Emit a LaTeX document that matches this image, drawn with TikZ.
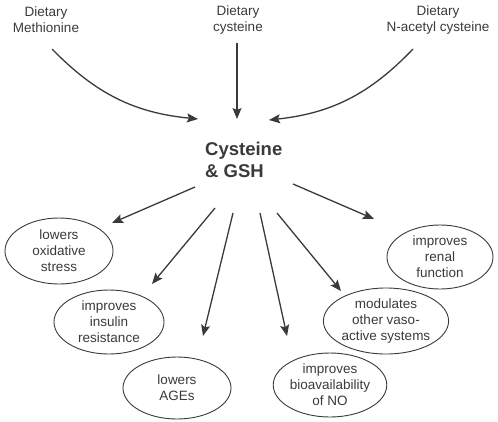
\documentclass[tikz,border=0pt]{standalone}
\usepackage{fontspec}
\setmainfont{Liberation Sans}
\usetikzlibrary{shapes.geometric,arrows.meta}
\definecolor{ink}{HTML}{3A3A3A}
\begin{document}
\begin{tikzpicture}[x=1pt,y=-1pt,
  txt/.style={text=ink,font=\fontsize{13.5}{16}\selectfont,align=center,inner sep=0pt},
  oval/.style={ellipse,draw=ink,line width=0.9pt,text=ink,font=\fontsize{13.5}{16}\selectfont,align=center,inner sep=0pt},
  arr/.style={draw=ink,line width=1.3pt,-{Stealth[length=11pt,width=9pt,inset=2pt]}}]
\useasboundingbox (0,0) rectangle (498,421);
% sources
\node[txt] (met) at (46,20) {Dietary\\Methionine};
\node[txt] (cys) at (238,20) {Dietary\\cysteine};
\node[txt] (nac) at (438,20) {Dietary\\N-acetyl cysteine};
% centre
\node[text=ink,font=\bfseries\fontsize{18.5}{22}\selectfont,align=left,inner sep=0pt,anchor=north west] (main) at (205,142) {Cysteine\\\& GSH};
% effects
\node[oval,minimum width=108pt,minimum height=66pt] (e1) at (59,251) {lowers\\oxidative\\stress};
\node[oval,minimum width=110pt,minimum height=64pt] (e2) at (109,322) {improves\\insulin\\resistance};
\node[oval,minimum width=108pt,minimum height=62pt] (e3) at (177,388) {lowers\\AGEs};
\node[oval,minimum width=106pt,minimum height=64pt] (e4) at (330,385) {improves\\bioavailability\\of NO};
\node[oval,minimum width=106pt,minimum height=66pt] (e5) at (386,321) {modulates\\other vaso-\\active systems};
\node[oval,minimum width=106pt,minimum height=64pt] (e6) at (440,257) {improves\\renal\\function};
% connector end points
\coordinate (s1) at (52,49);   \coordinate (t1) at (198,119);
\coordinate (s2) at (237,43);  \coordinate (t2) at (237,119);
\coordinate (s3) at (413,49);  \coordinate (t3) at (269,120);
\coordinate (b1) at (195,187); \coordinate (f1) at (112,223);
\coordinate (b2) at (215,208); \coordinate (f2) at (152,284);
\coordinate (b3) at (233,213); \coordinate (f3) at (203,336);
\coordinate (b4) at (260,213); \coordinate (f4) at (287,336);
\coordinate (b5) at (277,213); \coordinate (f5) at (341,291);
\coordinate (b6) at (293,184); \coordinate (f6) at (374,219);
\draw[arr] (s1) to[bend right=20] (t1);
\draw[arr] (s2) -- (t2);
\draw[arr] (s3) to[bend left=20] (t3);
\draw[arr] (b1) -- (f1);
\draw[arr] (b2) -- (f2);
\draw[arr] (b3) -- (f3);
\draw[arr] (b4) -- (f4);
\draw[arr] (b5) -- (f5);
\draw[arr] (b6) -- (f6);
\end{tikzpicture}
\end{document}
